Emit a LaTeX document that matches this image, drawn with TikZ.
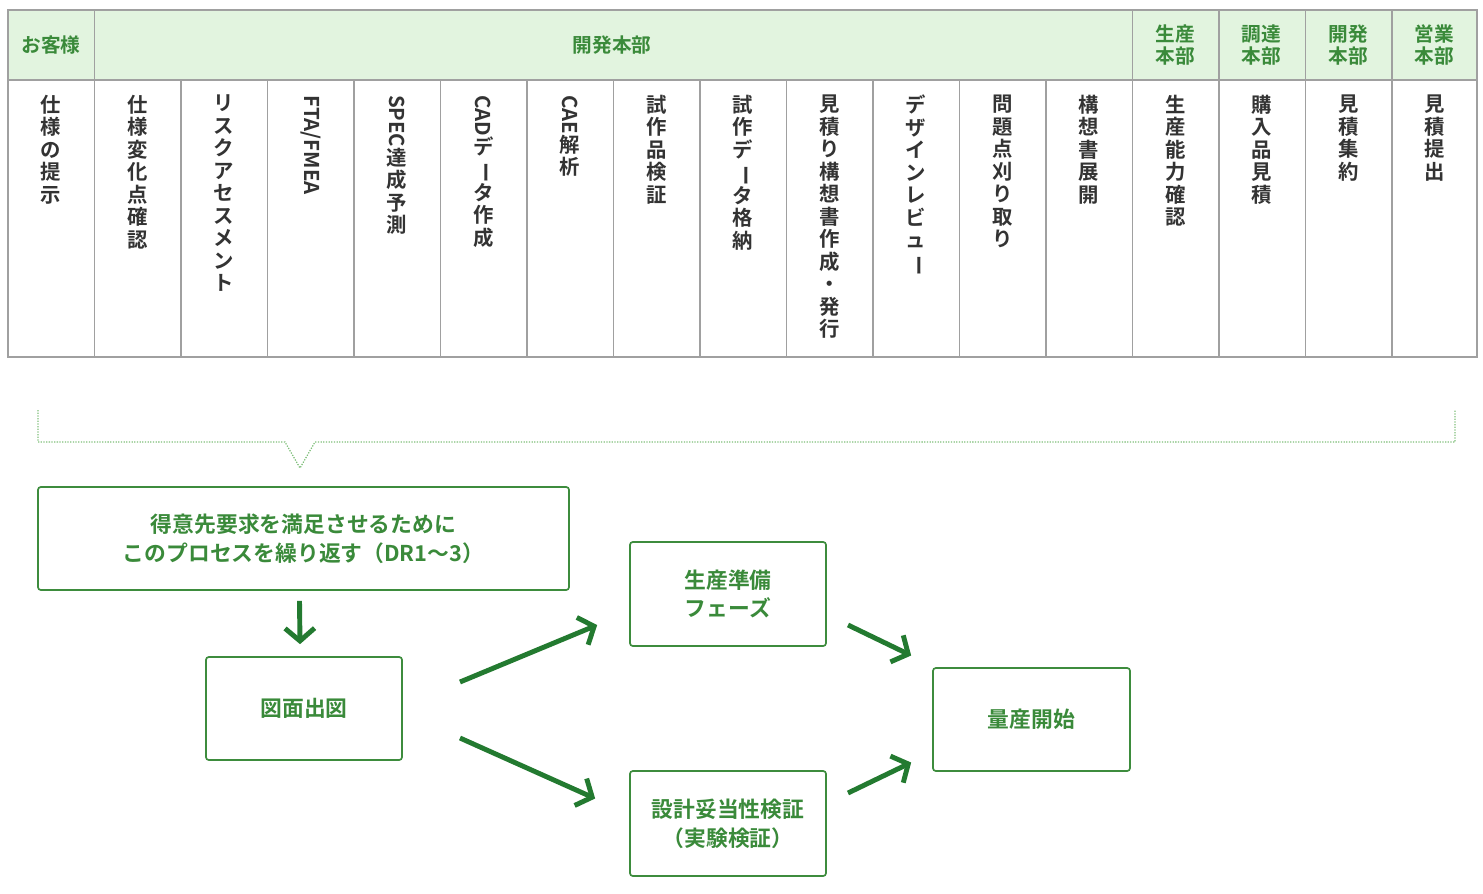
\documentclass[tikz,border=0pt]{standalone}
\usepackage{fontspec}
\setmainfont{Noto Sans CJK JP}[BoldFont={Noto Sans CJK JP Bold}]
\usepackage{graphicx}
\usetikzlibrary{arrows.meta,positioning}

\definecolor{greenHD}{HTML}{e2f4df}
\definecolor{greenTX}{HTML}{3a8a3a}
\definecolor{greenLN}{HTML}{3d8c3d}
\definecolor{greenAR}{HTML}{237a30}
\definecolor{greenDT}{HTML}{7fbf7a}
\definecolor{greyLN}{HTML}{a0a0a0}
\definecolor{darkTX}{HTML}{333333}

% vertical text: one character per line, {\R{..}} is turned
\newcommand{\R}[1]{\rotatebox[origin=c]{-90}{#1}}
\def\vtx#1{\ifx\relax#1\else#1\\\expandafter\vtx\fi}
\newcommand{\vt}[1]{\expandafter\vtx#1\relax}

\tikzset{
  head/.style={font=\fontsize{28}{30}\selectfont\bfseries, text=greenTX, align=center},
  col/.style={anchor=north, font=\fontsize{29}{32}\selectfont\bfseries, text=darkTX, align=center, inner sep=0pt},
  box/.style={draw=greenLN, line width=2.4pt, rounded corners=4pt, font=\fontsize{31}{41}\selectfont\bfseries, text=greenTX, align=center},
  arr/.style={draw=greenAR, line width=7pt, -{Straight Barb[length=18pt,width=42pt,line width=7pt]}},
}

\begin{document}
\begin{tikzpicture}[x=0.05cm,y=-0.05cm]
\useasboundingbox (0,0) rectangle (1483,893);

% table
\fill[greenHD] (8,10) rectangle (1477,80);
\draw[greyLN, line width=1.5pt] (8,10) rectangle (1477,357);
\draw[greyLN, line width=1.5pt] (8,80) -- (1477,80);
\foreach \k in {1,...,16} {
  \draw[greyLN, line width=1.5pt] (8+86.5*\k,80) -- (8+86.5*\k,357);
}
\foreach \k in {1,13,14,15,16} {
  \draw[greyLN, line width=1.5pt] (8+86.5*\k,10) -- (8+86.5*\k,80);
}

\node[head] (hCust) at (51,45) {お客様};
\node[head] (hDev) at (612,45) {開発本部};
\node[head] (hProd) at (1175,45) {生産\\本部};
\node[head] (hProc) at (1261,45) {調達\\本部};
\node[head] (hDev2) at (1348,45) {開発\\本部};
\node[head] (hSales) at (1434,45) {営業\\本部};

\foreach \k/\t in {0/{仕様の提示},1/{仕様変化点確認},2/{リスクアセスメント},
    3/{{\R{FTA/FMEA}}},4/{{\R{SPEC}}達成予測},5/{{\R{CAD}}デ{\R{ー}}タ作成},
    6/{{\R{CAE}}解析},7/{試作品検証},8/{試作デ{\R{ー}}タ格納},
    9/{見積り構想書作成・発行},10/{デザインレビュ{\R{ー}}},11/{問題点刈り取り},
    12/{構想書展開},13/{生産能力確認},14/{購入品見積},15/{見積集約},16/{見積提出}} {
  \node[col] (c\k) at (51+86.5*\k,95) {\vt{\t}};
}

% brace
\draw[greenDT, line width=1.8pt, dotted] (38,410) -- (38,442) -- (285,442) -- (300,468) -- (315,442) -- (1455,442) -- (1455,410);

% flow
\node[box, minimum width=531*0.05cm, minimum height=103*0.05cm] (repeat) at (303.5,538.5) {得意先要求を満足させるために\\このプロセスを繰り返す（DR1～3）};
\node[box, minimum width=196*0.05cm, minimum height=103*0.05cm] (drawing) at (304,708.5) {図面出図};
\node[box, minimum width=196*0.05cm, minimum height=104*0.05cm] (prep) at (728,594) {生産準備\\フェーズ};
\node[box, minimum width=196*0.05cm, minimum height=105*0.05cm] (valid) at (728,823.5) {設計妥当性検証\\（実験検証）};
\node[box, minimum width=197*0.05cm, minimum height=103*0.05cm] (mass) at (1031.5,719.5) {量産開始};

\coordinate (aUp) at (460,682);
\coordinate (aDn) at (460,738);
\coordinate (bUp) at (848,625);
\coordinate (bDn) at (848,793);
\draw[arr] ([xshift=-4*0.05cm,yshift=-10*0.05cm]repeat.south) -- ([xshift=-4*0.05cm,yshift=12*0.05cm]drawing.north);
\draw[arr] (aUp) -- ([xshift=-32*0.05cm,yshift=-31*0.05cm]prep.west);
\draw[arr] (aDn) -- ([xshift=-34*0.05cm,yshift=25*0.05cm]valid.west);
\draw[arr] (bUp) -- ([xshift=-21*0.05cm,yshift=64*0.05cm]mass.west);
\draw[arr] (bDn) -- ([xshift=-21*0.05cm,yshift=-43*0.05cm]mass.west);
\end{tikzpicture}
\end{document}
